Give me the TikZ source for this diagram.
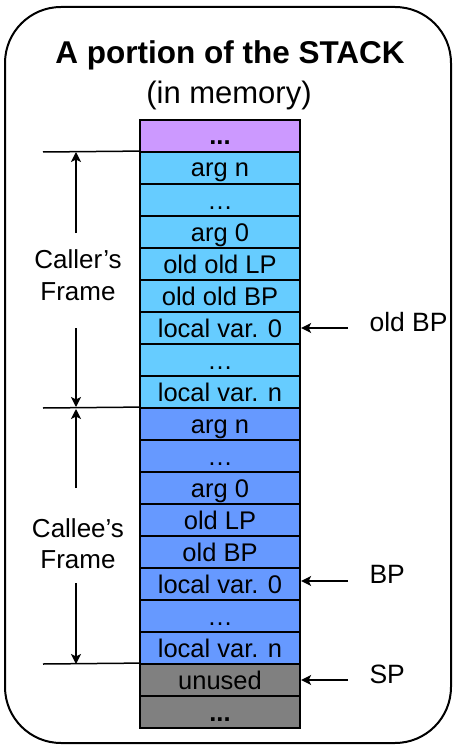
\documentclass[tikz,border=0pt]{standalone}
\usepackage{fontspec}
\setmainfont{Liberation Sans}
\usetikzlibrary{arrows.meta}
\definecolor{purp}{HTML}{CC99FF}
\definecolor{lblue}{HTML}{66CCFF}
\definecolor{mblue}{HTML}{6699FF}
\definecolor{ugray}{HTML}{808080}
\begin{document}
\begin{tikzpicture}[x=1pt,y=-1pt,
  cell/.style={draw, line width=1.8pt, minimum width=160.5pt, minimum height=32pt,
    inner sep=0pt, text height=20pt, text depth=2pt, font=\fontsize{25.5}{30}\selectfont},
  lbl/.style={anchor=base, font=\fontsize{26}{32}\selectfont},
  rlbl/.style={anchor=base west, font=\fontsize{26.5}{32}\selectfont},
  sep/.style={line width=1.5pt},
  arr/.style={line width=1.5pt, -{Stealth[length=10pt,width=10pt,inset=2.5pt]}}]
\useasboundingbox (0,0) rectangle (454,751);
\draw[line width=2pt, rounded corners=56pt] (5,7) rectangle (451,743);
\node[anchor=base, font=\bfseries\fontsize{31.5}{36}\selectfont] (title) at (230,64) {A portion of the STACK};
\node[anchor=base, font=\fontsize{31}{36}\selectfont] (sub) at (229,104) {(in memory)};
% stack cells
\node[cell, fill=purp] (c0) at (220,136) {\textbf{...}};
\node[cell, fill=lblue] (c1) at (220,168) {arg n};
\node[cell, fill=lblue] (c2) at (220,200) {…};
\node[cell, fill=lblue] (c3) at (220,232) {arg 0};
\node[cell, fill=lblue] (c4) at (220,264) {old old LP};
\node[cell, fill=lblue] (c5) at (220,296) {old old BP};
\node[cell, fill=lblue] (c6) at (220,328) {local var. 0};
\node[cell, fill=lblue] (c7) at (220,360) {…};
\node[cell, fill=lblue] (c8) at (220,392) {local var. n};
\node[cell, fill=mblue] (c9) at (220,424) {arg n};
\node[cell, fill=mblue] (c10) at (220,456) {…};
\node[cell, fill=mblue] (c11) at (220,488) {arg 0};
\node[cell, fill=mblue] (c12) at (220,520) {old LP};
\node[cell, fill=mblue] (c13) at (220,552) {old BP};
\node[cell, fill=mblue] (c14) at (220,584) {local var. 0};
\node[cell, fill=mblue] (c15) at (220,616) {…};
\node[cell, fill=mblue] (c16) at (220,648) {local var. n};
\node[cell, fill=ugray] (c17) at (220,680) {unused};
\node[cell, fill=ugray] (c18) at (220,712) {\textbf{...}};
% frame boundaries
\coordinate (b1) at (43,152);
\coordinate (b2) at (43,408);
\coordinate (b3) at (43,664);
\draw[sep] (b1) -- (c1.north west);
\draw[sep] (b2) -- (c9.north west);
\draw[sep] (b3) -- (c17.north west);
% frame labels
\node[lbl] (cr1) at (78,268) {Caller’s};
\node[lbl] (cr2) at (78,300) {Frame};
\node[lbl] (ce1) at (78,537) {Callee’s};
\node[lbl] (ce2) at (78,568) {Frame};
\coordinate (a1s) at (76,233);
\coordinate (a1e) at (76,152);
\coordinate (a2s) at (76,328);
\coordinate (a2e) at (76,407);
\coordinate (a3s) at (76,488);
\coordinate (a3e) at (76,409);
\coordinate (a4s) at (76,583);
\coordinate (a4e) at (76,664);
\draw[arr] (a1s) -- (a1e);
\draw[arr] (a2s) -- (a2e);
\draw[arr] (a3s) -- (a3e);
\draw[arr] (a4s) -- (a4e);
% pointers
\coordinate (p1) at (348,328);
\coordinate (p2) at (348,581);
\coordinate (p3) at (348,680);
\draw[arr] (p1) -- (c6.east);
\draw[arr] (p2) -- (c14.east |- p2);
\draw[arr] (p3) -- (c17.east);
\node[rlbl] (oldbp) at (366,331.7) {old BP};
\node[rlbl] (bp) at (366,583) {BP};
\node[rlbl] (sp) at (366,683) {SP};
\end{tikzpicture}
\end{document}
